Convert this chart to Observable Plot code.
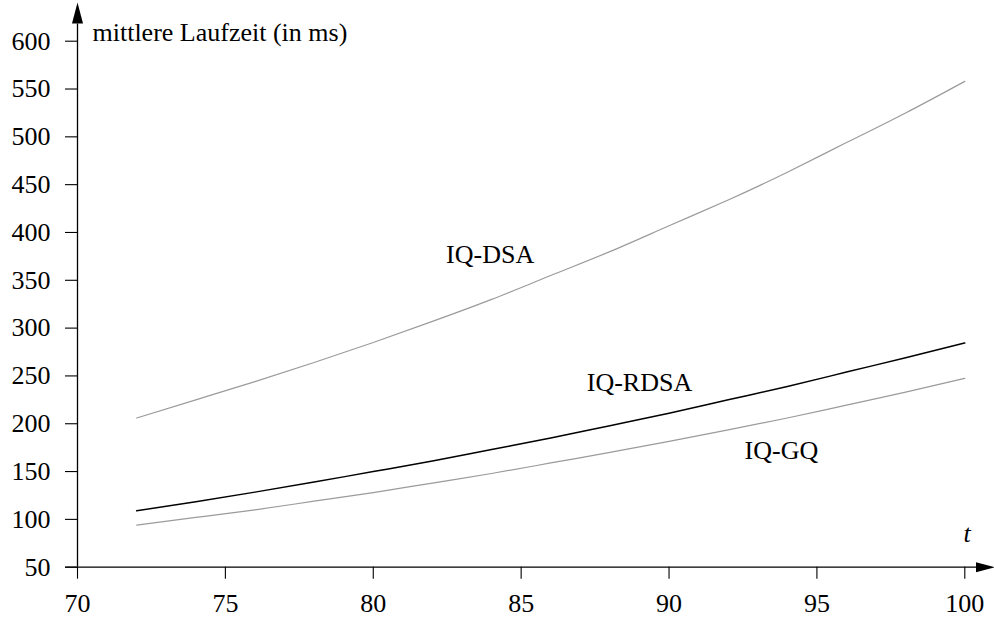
<!DOCTYPE html>
<html>
<head>
<meta charset="utf-8">
<script src="https://cdn.jsdelivr.net/npm/d3@7"></script>
<script src="https://cdn.jsdelivr.net/npm/@observablehq/plot@0.6"></script>
<style>
  html, body { margin: 0; padding: 0; background: #fff; }
</style>
</head>
<body>
<div id="chart"></div>
<script>
// ---- data ----
const tValues    = [72, 74, 76, 78, 80, 82, 84, 86, 88, 90, 92, 94, 96, 98, 100];
const dsaValues  = [206, 225, 244, 264, 285, 307, 330, 355, 380, 407, 434, 463, 494, 525, 558];
const rdsaValues = [109, 118.5, 128.5, 139, 150, 161, 173, 185, 198, 211, 225, 239, 254, 269, 284.5];
const gqValues   = [94, 102, 110, 119, 128, 138, 148, 159, 170, 181.5, 193.5, 206, 219.5, 233, 247.5];
const seriesNames = ["IQ-DSA", "IQ-RDSA", "IQ-GQ"];
const labelT = [83.95, 89.0, 93.8];
const labelV = [377, 243, 172];
const xTicks = [70, 75, 80, 85, 90, 95, 100];
const yTicks = [50, 100, 150, 200, 250, 300, 350, 400, 450, 500, 550, 600];
const yTitle = "mittlere Laufzeit (in ms)";
const xTitle = "t";

const valuesBySeries = [dsaValues, rdsaValues, gqValues];
const rows = seriesNames.flatMap((s, i) => tValues.map((t, j) => ({series: s, t, v: valuesBySeries[i][j]})));
const labels = seriesNames.map((s, i) => ({series: s, t: labelT[i], v: labelV[i]}));
const colors = {"IQ-DSA": "#9b9b9b", "IQ-RDSA": "#000000", "IQ-GQ": "#9b9b9b"};
const widths = {"IQ-DSA": 1.2, "IQ-RDSA": 1.5, "IQ-GQ": 1.2};

const FONT = "'Liberation Serif', serif";
const FS = 26;

const arrowUp = {draw(ctx) { ctx.moveTo(0, -10.5); ctx.lineTo(5.5, 10.5); ctx.lineTo(-5.5, 10.5); ctx.closePath(); }};
const arrowRight = {draw(ctx) { ctx.moveTo(9.5, 0); ctx.lineTo(-9.5, -5); ctx.lineTo(-9.5, 5); ctx.closePath(); }};

const chart = Plot.plot({
  width: 994,
  height: 618,
  marginLeft: 77,
  marginRight: 29.7,
  marginTop: 40.7,
  marginBottom: 51.3,
  style: {fontFamily: FONT, fontSize: FS + "px", background: "white", color: "black"},
  x: {domain: [70, 100]},
  y: {domain: [50, 600]},
  marks: [
    Plot.axisX({ticks: xTicks, tickSize: 12, tickPadding: 14, label: null, tickFormat: d => String(d), fontSize: FS, fontFamily: FONT, strokeWidth: 1.1}),
    Plot.axisY({ticks: yTicks, tickSize: 12, tickPadding: 15, label: null, tickFormat: d => String(d), fontSize: FS, fontFamily: FONT, strokeWidth: 1.1}),
    Plot.ruleY([50], {x1: 69.6, x2: 100.4, stroke: "black", strokeWidth: 1.3}),
    Plot.ruleX([70], {y1: 50, y2: 618, stroke: "black", strokeWidth: 1.3}),
    Plot.dot([0], {frameAnchor: "top-left", dy: -28.2, symbol: arrowUp, r: 5, fill: "black", stroke: "none"}),
    Plot.dot([0], {frameAnchor: "bottom-right", dx: 20.7, symbol: arrowRight, r: 5, fill: "black", stroke: "none"}),
    Plot.line(rows, {x: "t", y: "v", z: "series", stroke: d => colors[d.series], strokeWidth: d => widths[d.series], curve: "natural"}),
    Plot.text(labels, {x: "t", y: "v", text: "series", fontSize: FS, fontFamily: FONT, fill: "black", lineAnchor: "middle"}),
    Plot.text([yTitle], {frameAnchor: "top-left", dx: 15, dy: -8.3, text: d => d, textAnchor: "start", lineAnchor: "middle", fontSize: FS, fontFamily: FONT, fill: "black"}),
    Plot.text([xTitle], {frameAnchor: "bottom-right", dx: 6, dy: -34, text: d => d, fontStyle: "italic", fontSize: FS, fontFamily: FONT, fill: "black", lineAnchor: "middle"})
  ]
});
document.getElementById("chart").appendChild(chart);
</script>
</body>
</html>
